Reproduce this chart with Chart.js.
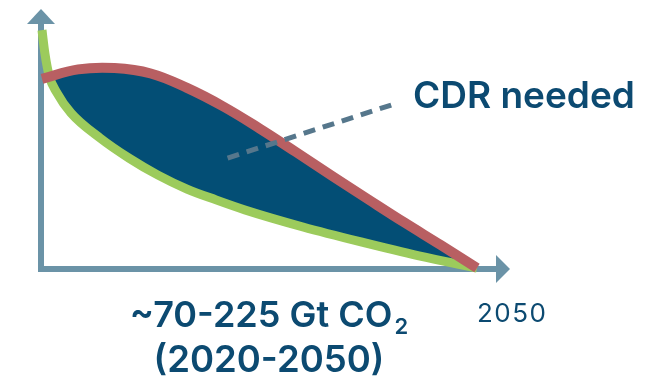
<!DOCTYPE html>
<html>
<head>
<meta charset="utf-8">
<script src="https://cdn.jsdelivr.net/npm/chart.js@4"></script>
<style>
  html, body { margin: 0; padding: 0; background: #fff; }
  canvas { display: block; }
</style>
</head>
<body>
<canvas id="chart" width="651" height="376"></canvas>
<script>
// emissions pathways, 2020 to 2050 (arbitrary units)
const grossYears = [2020, 2022.5, 2025, 2027.5, 2030, 2032.5, 2035, 2037.5, 2040, 2042.5, 2045, 2047.5, 2050];
const grossValues = [73.3, 77.0, 77.5, 75.4, 69.8, 62.6, 54.1, 45.0, 35.7, 26.6, 17.6, 8.9, 0];

const netYears = [2020, 2020.2, 2020.5, 2021, 2022, 2024, 2026, 2028, 2030, 2032, 2034, 2038, 2042, 2046, 2050];
const netValues = [92.2, 83.2, 74.4, 68.2, 60.1, 50.4, 42.6, 36.0, 30.6, 26.4, 22.5, 15.9, 10.1, 4.7, 0];

const calloutLabel = 'CDR needed';
const calloutFrom = { x: 2032.8, y: 42.6 };
const calloutTo = { x: 2044.1, y: 63.2 };
const totalLabel = ['~70-225 Gt CO', '2', '(2020-2050)'];
const endLabel = '2050';

const NAVY = '#034e75';
const RED = '#b85f62';
const GREEN = '#9ccb5c';
const AXIS = '#6b93a7';
const TEXT = '#0c4a71';

function toPoints(xs, ys) {
  return xs.map((x, i) => ({ x: x, y: ys[i] }));
}

// axes with arrowheads, drawn under the curves
const arrowAxes = {
  id: 'arrowAxes',
  beforeDatasetsDraw(chart) {
    const ctx = chart.ctx;
    const x = chart.scales.x, y = chart.scales.y;
    const ox = x.getPixelForValue(2020) - 1;
    const oy = y.getPixelForValue(0) + 1;
    const right = x.getPixelForValue(2050);
    const top = y.getPixelForValue(100);
    ctx.save();
    ctx.fillStyle = AXIS;
    ctx.fillRect(ox - 3, top + 14, 6, oy + 3 - (top + 14));
    ctx.fillRect(ox - 3, oy - 3, right + 19 - (ox - 3), 6);
    ctx.beginPath();
    ctx.moveTo(ox, top - 1);
    ctx.lineTo(ox - 14, top + 14);
    ctx.lineTo(ox + 14, top + 14);
    ctx.closePath();
    ctx.fill();
    ctx.beginPath();
    ctx.moveTo(right + 33, oy);
    ctx.lineTo(right + 19, oy - 14);
    ctx.lineTo(right + 19, oy + 14);
    ctx.closePath();
    ctx.fill();
    ctx.restore();
  }
};

// dashed callout and text labels
const labels = {
  id: 'labels',
  afterDatasetsDraw(chart) {
    const ctx = chart.ctx;
    const x = chart.scales.x, y = chart.scales.y;
    ctx.save();
    ctx.strokeStyle = '#56778c';
    ctx.lineWidth = 5;
    ctx.setLineDash([12, 8]);
    ctx.beginPath();
    ctx.moveTo(x.getPixelForValue(calloutFrom.x), y.getPixelForValue(calloutFrom.y));
    ctx.lineTo(x.getPixelForValue(calloutTo.x), y.getPixelForValue(calloutTo.y));
    ctx.stroke();
    ctx.setLineDash([]);

    ctx.fillStyle = TEXT;
    ctx.textBaseline = 'alphabetic';
    ctx.textAlign = 'left';
    ctx.font = '600 37px Inter';
    ctx.fillText(calloutLabel, 413, 108);

    // two-line total under the axis, centred
    ctx.font = '600 36px Inter';
    const w1 = ctx.measureText(totalLabel[0]).width;
    ctx.font = '600 22px Inter';
    const w2 = ctx.measureText(totalLabel[1]).width;
    const cx = 269;
    const left = cx - (w1 + w2 + 2) / 2;
    ctx.font = '600 36px Inter';
    ctx.fillText(totalLabel[0], left, 327);
    ctx.font = '600 22px Inter';
    ctx.fillText(totalLabel[1], left + w1 + 2, 334);
    ctx.font = '600 36.5px Inter';
    ctx.textAlign = 'center';
    ctx.fillText(totalLabel[2], cx, 372);

    ctx.textAlign = 'left';
    ctx.font = '400 26px Inter';
    ctx.letterSpacing = '1.5px';
    ctx.fillText(endLabel, 477, 322);
    ctx.restore();
  }
};

new Chart(document.getElementById('chart'), {
  type: 'line',
  data: {
    datasets: [
      {
        label: 'Gross',
        data: toPoints(grossYears, grossValues),
        borderColor: RED,
        borderWidth: 10,
        pointRadius: 0,
        tension: 0.4,
        fill: { target: '+1', above: NAVY, below: 'rgba(0,0,0,0)' },
        clip: false
      },
      {
        label: 'Net',
        data: toPoints(netYears, netValues),
        borderColor: GREEN,
        borderWidth: 9,
        pointRadius: 0,
        cubicInterpolationMode: 'monotone',
        fill: false,
        clip: false
      }
    ]
  },
  options: {
    responsive: false,
    animation: false,
    devicePixelRatio: 1,
    layout: { padding: { left: 42, right: 174, top: 10, bottom: 108 } },
    scales: {
      x: { type: 'linear', min: 2020, max: 2050, display: false },
      y: { min: 0, max: 100, display: false }
    },
    plugins: {
      legend: { display: false },
      tooltip: { enabled: false },
      filler: { drawTime: 'beforeDatasetsDraw' }
    }
  },
  plugins: [arrowAxes, labels]
});
</script>
</body>
</html>
